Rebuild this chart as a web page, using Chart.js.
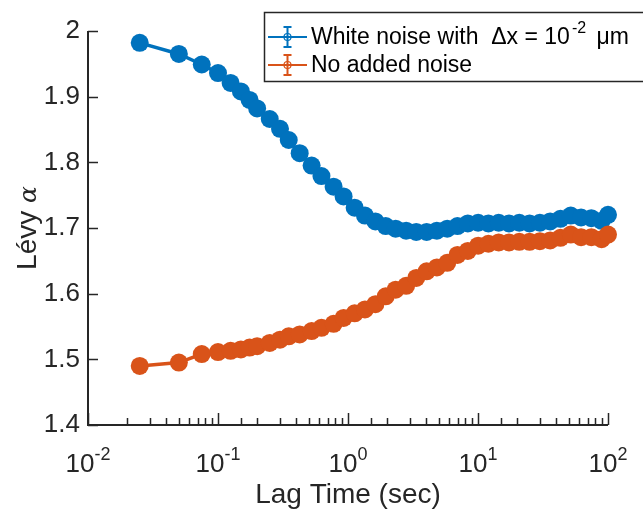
<!DOCTYPE html>
<html>
<head>
<meta charset="utf-8">
<script src="https://cdn.jsdelivr.net/npm/chart.js@4/dist/chart.umd.min.js"></script>
<style>
  html, body { margin: 0; padding: 0; background: #fff; }
  #wrap { width: 643px; height: 510px; }
</style>
</head>
<body>
<div id="wrap"><canvas id="alphaChart" width="643" height="510"></canvas></div>
<script>
// Lag times (sec) and fitted Levy alpha for both runs
const lagTimes = [0.025, 0.05, 0.075, 0.1, 0.125, 0.15, 0.175, 0.2, 0.25, 0.3, 0.35, 0.425,
    0.525, 0.625, 0.775, 0.925, 1.125, 1.35, 1.625, 1.95, 2.325, 2.8, 3.35, 4.025, 4.825,
    5.8, 6.95, 8.35, 10.025, 12.025, 14.425, 17.325, 20.775, 24.925, 29.925, 35.9, 43.075,
    51.7, 62.05, 74.45, 89.35, 100];
const whiteNoiseAlpha = [1.982, 1.965, 1.949, 1.936, 1.921, 1.908, 1.895, 1.882, 1.866, 1.851,
    1.834, 1.814, 1.795, 1.779, 1.763, 1.748, 1.731, 1.719, 1.710, 1.703, 1.699, 1.696, 1.694,
    1.694, 1.696, 1.699, 1.703, 1.707, 1.708, 1.707, 1.708, 1.707, 1.708, 1.707, 1.708, 1.710,
    1.714, 1.719, 1.716, 1.715, 1.711, 1.720];
const noNoiseAlpha = [1.490, 1.495, 1.508, 1.511, 1.513, 1.515, 1.518, 1.520, 1.525, 1.530,
    1.535, 1.538, 1.543, 1.548, 1.554, 1.563, 1.570, 1.576, 1.584, 1.596, 1.606, 1.612, 1.624,
    1.634, 1.640, 1.647, 1.659, 1.665, 1.673, 1.676, 1.678, 1.678, 1.679, 1.679, 1.680, 1.681,
    1.685, 1.690, 1.686, 1.686, 1.683, 1.690];
const xTickExponents = [-2, -1, 0, 1, 2];
const seriesLabels = ['White noise with  \u0394x = 10', 'No added noise'];

const BLUE = '#0072BD';
const ORANGE = '#D95319';
const AXIS = '#262626';
const FONT = '"Liberation Sans", Arial, sans-serif';

function toPoints(ys) {
    return lagTimes.map((t, i) => ({ x: t, y: ys[i] }));
}

// Axes, inward ticks, superscript labels and axis titles (MATLAB look)
const axesPlugin = {
    id: 'matlabAxes',
    beforeDatasetsDraw(chart) {
        const { ctx, chartArea: a, scales } = chart;
        const xs = scales.x, ys = scales.y;
        ctx.save();
        ctx.strokeStyle = AXIS;
        ctx.lineWidth = 2;
        ctx.beginPath();
        ctx.moveTo(a.left, a.top);
        ctx.lineTo(a.left, a.bottom);
        ctx.lineTo(a.right, a.bottom);
        ctx.stroke();

        ctx.lineWidth = 1.5;
        ctx.beginPath();
        ys.ticks.forEach(t => {
            const py = Math.round(ys.getPixelForValue(t.value)) + 0.5;
            ctx.moveTo(a.left, py);
            ctx.lineTo(a.left + 10, py);
        });
        xs.ticks.forEach(t => {
            const lg = Math.log10(t.value);
            const major = Math.abs(lg - Math.round(lg)) < 1e-6;
            const px = Math.round(xs.getPixelForValue(t.value)) + 0.5;
            ctx.moveTo(px, a.bottom);
            ctx.lineTo(px, a.bottom - (major ? 12 : 7));
        });
        ctx.stroke();

        // x tick labels 10^n
        ctx.fillStyle = AXIS;
        ctx.textBaseline = 'alphabetic';
        xTickExponents.forEach(e => {
            const px = xs.getPixelForValue(Math.pow(10, e));
            ctx.font = '26px ' + FONT;
            const wb = ctx.measureText('10').width;
            ctx.font = '18px ' + FONT;
            const sup = String(e);
            const ws = ctx.measureText(sup).width;
            const x0 = px - (wb + ws) / 2;
            ctx.font = '26px ' + FONT;
            ctx.textAlign = 'left';
            ctx.fillText('10', x0, 472);
            ctx.font = '18px ' + FONT;
            ctx.fillText(sup, x0 + wb, 460);
        });

        // axis titles
        ctx.font = '28px ' + FONT;
        ctx.textAlign = 'center';
        ctx.fillText('Lag Time (sec)', (a.left + a.right) / 2, 503);

        ctx.translate(36, (a.top + a.bottom) / 2);
        ctx.rotate(-Math.PI / 2);
        ctx.font = '28px ' + FONT;
        const w1 = ctx.measureText('L\u00e9vy ').width;
        ctx.font = 'italic 25px "DejaVu Serif", serif';
        const w2 = ctx.measureText('\u03b1').width;
        ctx.textAlign = 'left';
        ctx.font = '28px ' + FONT;
        ctx.fillText('L\u00e9vy ', -(w1 + w2) / 2, 0);
        ctx.font = 'italic 25px "DejaVu Serif", serif';
        ctx.fillText('\u03b1', -(w1 + w2) / 2 + w1, 0);
        ctx.restore();
    },
    afterDraw(chart) {
        const { ctx } = chart;
        ctx.save();
        ctx.fillStyle = '#fff';
        ctx.fillRect(264, 12, 390, 69);
        ctx.strokeStyle = AXIS;
        ctx.lineWidth = 1.5;
        ctx.strokeRect(264.5, 12.5, 390, 69);
        const rows = [{ y: 37, c: BLUE }, { y: 65, c: ORANGE }];
        rows.forEach((r, i) => {
            ctx.strokeStyle = r.c;
            ctx.lineWidth = 2;
            ctx.beginPath();
            ctx.moveTo(268, r.y);
            ctx.lineTo(307, r.y);
            ctx.moveTo(287.5, r.y - 10);
            ctx.lineTo(287.5, r.y + 10);
            ctx.moveTo(283.5, r.y - 10);
            ctx.lineTo(291.5, r.y - 10);
            ctx.moveTo(283.5, r.y + 10);
            ctx.lineTo(291.5, r.y + 10);
            ctx.stroke();
            ctx.lineWidth = 1.2;
            ctx.beginPath();
            ctx.arc(287.5, r.y, 3.5, 0, Math.PI * 2);
            ctx.stroke();

            ctx.fillStyle = '#000';
            ctx.textAlign = 'left';
            ctx.textBaseline = 'middle';
            ctx.font = '23px ' + FONT;
            ctx.fillText(seriesLabels[i], 311, r.y + 1);
            if (i === 0) {
                const w = ctx.measureText(seriesLabels[i]).width + 2;
                ctx.font = '16px ' + FONT;
                ctx.fillText('-2', 311 + w, r.y - 8);
                const ws = ctx.measureText('-2').width;
                ctx.font = '23px ' + FONT;
                ctx.fillText(' \u03bcm', 311 + w + ws + 4, r.y + 1);
            }
        });
        ctx.restore();
    }
};

const ctx = document.getElementById('alphaChart').getContext('2d');
const chart = new Chart(ctx, {
    type: 'line',
    data: {
        datasets: [
            {
                label: 'White noise',
                data: toPoints(whiteNoiseAlpha),
                borderColor: BLUE,
                backgroundColor: BLUE,
                pointBackgroundColor: BLUE,
                pointBorderColor: BLUE,
                borderWidth: 3.5,
                pointRadius: 9,
                pointBorderWidth: 0,
                tension: 0,
                clip: false,
                order: 2
            },
            {
                label: 'No added noise',
                data: toPoints(noNoiseAlpha),
                borderColor: ORANGE,
                backgroundColor: ORANGE,
                pointBackgroundColor: ORANGE,
                pointBorderColor: ORANGE,
                borderWidth: 3.5,
                pointRadius: 9,
                pointBorderWidth: 0,
                tension: 0,
                clip: false,
                order: 1
            }
        ]
    },
    options: {
        responsive: false,
        animation: false,
        layout: { padding: { left: 0, right: 35, top: 31, bottom: 0 } },
        plugins: {
            legend: { display: false },
            tooltip: { enabled: false }
        },
        scales: {
            x: {
                type: 'logarithmic',
                min: 0.01,
                max: 100,
                grid: { display: false, drawTicks: false },
                border: { display: false },
                ticks: { display: false, autoSkip: false },
                afterFit: (s) => { s.height = 85; }
            },
            y: {
                min: 1.4,
                max: 2,
                grid: { display: false, drawTicks: false },
                border: { display: false },
                ticks: {
                    stepSize: 0.1,
                    padding: 8,
                    color: AXIS,
                    font: { family: FONT, size: 26 },
                    callback: (v) => String(Number(v.toFixed(1)))
                },
                afterFit: (s) => { s.width = 88; }
            }
        }
    },
    plugins: [axesPlugin]
});
</script>
</body>
</html>
